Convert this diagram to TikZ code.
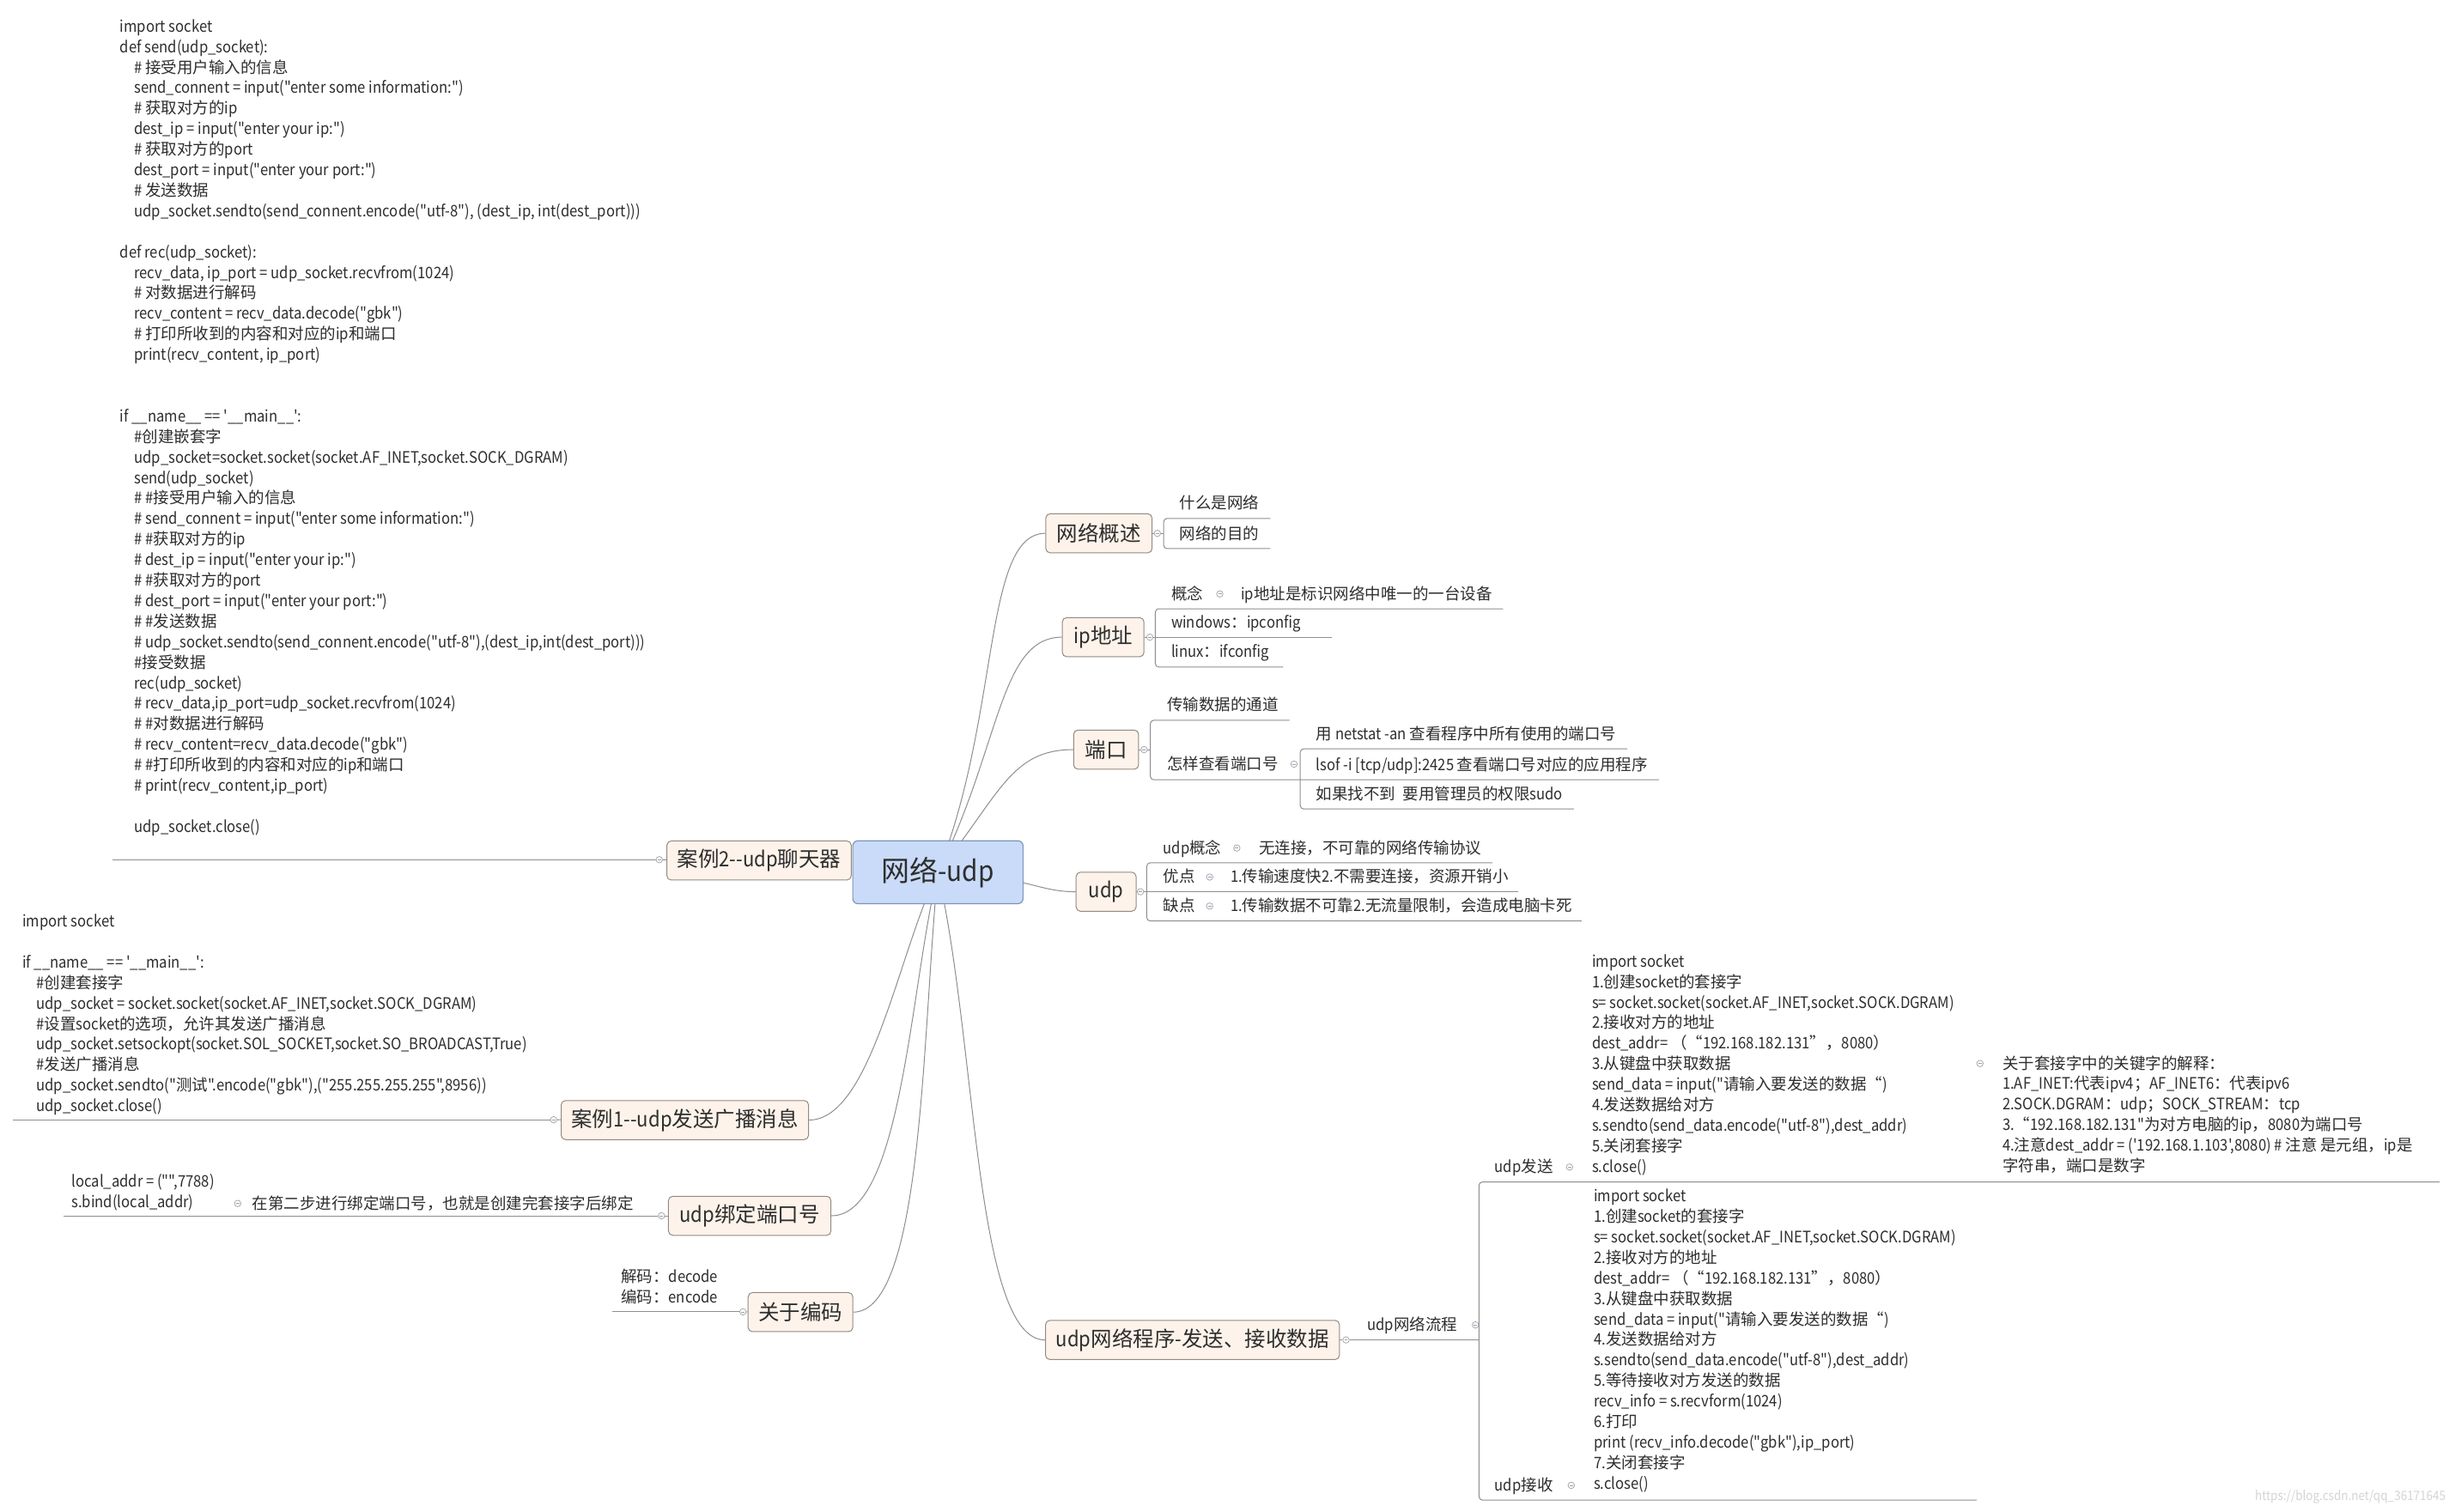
\documentclass[tikz,border=0pt]{standalone}
\usepackage{fontspec}
\newfontfamily\cjkf{Noto Sans CJK SC}
\newfontfamily\latf[FakeStretch=0.9]{Noto Sans CJK SC}
\XeTeXinterchartokenstate=1
\newXeTeXintercharclass\hanclass
\newcount\hanc
\newcommand\sethanrange[2]{\hanc=#1\relax\loop\XeTeXcharclass\hanc=\hanclass\relax\ifnum\hanc<#2\relax\advance\hanc by 1\relax\repeat}
\sethanrange{"4E00}{"9FFF}
\sethanrange{"3000}{"303F}
\sethanrange{"FF00}{"FF5E}
\sethanrange{"201C}{"201D}
\XeTeXinterchartoks 0 \hanclass = {\cjkf}
\XeTeXinterchartoks 4095 \hanclass = {\cjkf}
\XeTeXinterchartoks \hanclass 0 = {\latf}
\XeTeXinterchartoks \hanclass 4095 = {\latf}
\usetikzlibrary{calc}
\pgfdeclarelayer{back}
\pgfdeclarelayer{bg}
\pgfsetlayers{back,bg,main}
\definecolor{linec}{HTML}{8E8E8E}
\definecolor{boxf}{HTML}{FDF3EA}
\definecolor{boxb}{HTML}{938A82}
\definecolor{rootf}{HTML}{C9DBF8}
\definecolor{rootb}{HTML}{7F95B8}
\definecolor{txtc}{HTML}{2E2E2E}
\definecolor{circc}{HTML}{9AA0AA}
\definecolor{wmc}{HTML}{D4D4D4}
\newcommand\codeln[1]{\hbox{#1}}
\newcommand\codeind[1]{\hbox{\hspace*{16.5pt}#1}}
\begin{document}
\begin{tikzpicture}[x=1.819pt, y=-1.819pt,
  txt/.style={inner sep=0pt, anchor=base west, text=txtc, font=\latf\fontsize{18.5}{23.9}\selectfont},
  l1/.style={draw=boxb, fill=boxf, rounded corners=5pt, line width=1pt, inner sep=1pt, text=txtc, font=\latf\fontsize{24.5}{28}\selectfont, minimum height=45.5pt},
  rootbox/.style={draw=rootb, fill=rootf, rounded corners=6pt, line width=1.2pt, inner sep=1pt, text=txtc, font=\latf\fontsize{33}{36}\selectfont, minimum width=198.3pt, minimum height=73.3pt},
  conn/.style={draw=linec, line width=1pt},
  uline/.style={draw=linec, line width=1pt, rounded corners=4pt},
  collapse/.style={circle, draw=circc, fill=white, line width=0.7pt, minimum size=7.5pt, inner sep=0pt,
    path picture={\draw[circc, line width=0.7pt] ([xshift=1.8pt]path picture bounding box.west) -- ([xshift=-1.8pt]path picture bounding box.east);}}]
\useasboundingbox (0,0) rectangle (1568,968);
\begin{pgfonlayer}{back}
\fill[white] (0,0) rectangle (1568,968);
\end{pgfonlayer}

% ---------- topic boxes ----------
\node[rootbox] (root) at (600.5,558.5) {网络-udp};
\node[l1, minimum width=123.7pt] (gaishu) at (703.6,341.5) {网络概述};
\node[l1, minimum width=95.1pt] (ipaddr) at (706.3,408) {ip地址};
\node[l1, minimum width=75.7pt] (port) at (708.2,480) {端口};
\node[l1, minimum width=69.8pt] (udp) at (708.2,571) {udp};
\node[l1, minimum width=342.3pt] (prog) at (763.5,858) {udp网络程序-发送、接收数据};
\node[l1, minimum width=214.6pt] (case2) at (486,551) {案例2--udp聊天器};
\node[l1, minimum width=288pt] (case1) at (438.5,717.2) {案例1--udp发送广播消息};
\node[l1, minimum width=189.2pt] (bind) at (480,778.5) {udp绑定端口号};
\node[l1, minimum width=121.9pt] (coding) at (512.5,840.2) {关于编码};

% ---------- collapse markers ----------
\node[collapse] (kgaishu) at (741,341.5) {};
\node[collapse] (kip) at (736.2,408) {};
\node[collapse] (kgn) at (781,380.3) {};
\node[collapse] (kport) at (732.5,480) {};
\node[collapse] (khow) at (828.5,489.3) {};
\node[collapse] (kudp) at (730.2,571) {};
\node[collapse] (kudpgn) at (791.9,543) {};
\node[collapse] (kyd) at (774.5,561.6) {};
\node[collapse] (kqd) at (774.5,580.2) {};
\node[collapse] (kprog) at (861.8,858) {};
\node[collapse] (kflow) at (944.7,848.4) {};
\node[collapse] (ksend) at (1004.9,747.3) {};
\node[collapse] (knote) at (1267.7,681) {};
\node[collapse] (krecv) at (1006,951.1) {};
\node[collapse] (kcase2) at (422.1,550.5) {};
\node[collapse] (kcase1) at (354.5,717) {};
\node[collapse] (kbind) at (423.5,778.5) {};
\node[collapse] (kbindt) at (152.2,770.6) {};
\node[collapse] (kcoding) at (475.7,840) {};

% ---------- texts ----------
\node[txt] (tWhat) at (755.2,326) {什么是网络};
\node[txt] (tAim) at (755.2,345.3) {网络的目的};
\node[txt] (tGn) at (749.8,383.8) {概念};
\node[txt] (tIpdef) at (794.4,383.8) {ip地址是标识网络中唯一的一台设备};
\node[txt] (tWin) at (749.8,402) {windows：ipconfig};
\node[txt] (tLinux) at (749.8,421.1) {linux：ifconfig};
\node[txt] (tChan) at (747.2,455.2) {传输数据的通道};
\node[txt] (tHow) at (747.2,492.8) {怎样查看端口号};
\node[txt] (tNetstat) at (842.6,473.5) {用 netstat -an 查看程序中所有使用的端口号};
\node[txt] (tLsof) at (842.6,493.3) {lsof -i [tcp/udp]:2425 查看端口号对应的应用程序};
\node[txt] (tSudo) at (842.6,512) {如果找不到\hspace{0.45em}要用管理员的权限sudo};
\node[txt] (tUdpgn) at (744.7,546.5) {udp概念};
\node[txt] (tUdpdef) at (806,546.5) {无连接，不可靠的网络传输协议};
\node[txt] (tYd) at (744.7,565.1) {优点};
\node[txt] (tYdc) at (787.8,565.1) {1.传输速度快2.不需要连接，资源开销小};
\node[txt] (tQd) at (744.7,583.7) {缺点};
\node[txt] (tQdc) at (787.8,583.7) {1.传输数据不可靠2.无流量限制，会造成电脑卡死};
\node[txt] (tFlow) at (875.3,851.9) {udp网络流程};
\node[txt] (tSend) at (957,750.8) {udp发送};
\node[txt] (tRecv) at (957,954.6) {udp接收};
\node[txt] (tBindnote) at (161.4,774.1) {在第二步进行绑定端口号，也就是创建完套接字后绑定};

\node[txt] (cChat) at (76.8,20.5) {\vtop{%
\codeln{import socket}
\codeln{def send(udp\_socket):}
\codeind{\# 接受用户输入的信息}
\codeind{send\_connent = input("enter some information:")}
\codeind{\# 获取对方的ip}
\codeind{dest\_ip = input("enter your ip:")}
\codeind{\# 获取对方的port}
\codeind{dest\_port = input("enter your port:")}
\codeind{\# 发送数据}
\codeind{udp\_socket.sendto(send\_connent.encode("utf-8"), (dest\_ip, int(dest\_port)))}
\codeln{}
\codeln{def rec(udp\_socket):}
\codeind{recv\_data, ip\_port = udp\_socket.recvfrom(1024)}
\codeind{\# 对数据进行解码}
\codeind{recv\_content = recv\_data.decode("gbk")}
\codeind{\# 打印所收到的内容和对应的ip和端口}
\codeind{print(recv\_content, ip\_port)}
\codeln{}
\codeln{}
\codeln{if \_\_name\_\_ == '\_\_main\_\_':}
\codeind{\#创建嵌套字}
\codeind{udp\_socket=socket.socket(socket.AF\_INET,socket.SOCK\_DGRAM)}
\codeind{send(udp\_socket)}
\codeind{\# \#接受用户输入的信息}
\codeind{\# send\_connent = input("enter some information:")}
\codeind{\# \#获取对方的ip}
\codeind{\# dest\_ip = input("enter your ip:")}
\codeind{\# \#获取对方的port}
\codeind{\# dest\_port = input("enter your port:")}
\codeind{\# \#发送数据}
\codeind{\# udp\_socket.sendto(send\_connent.encode("utf-8"),(dest\_ip,int(dest\_port)))}
\codeind{\#接受数据}
\codeind{rec(udp\_socket)}
\codeind{\# recv\_data,ip\_port=udp\_socket.recvfrom(1024)}
\codeind{\# \#对数据进行解码}
\codeind{\# recv\_content=recv\_data.decode("gbk")}
\codeind{\# \#打印所收到的内容和对应的ip和端口}
\codeind{\# print(recv\_content,ip\_port)}
\codeln{}
\codeind{udp\_socket.close()}}};

\node[txt] (cCase1) at (14.2,593.5) {\vtop{%
\codeln{import socket}
\codeln{}
\codeln{if \_\_name\_\_ == '\_\_main\_\_':}
\codeind{\#创建套接字}
\codeind{udp\_socket = socket.socket(socket.AF\_INET,socket.SOCK\_DGRAM)}
\codeind{\#设置socket的选项，允许其发送广播消息}
\codeind{udp\_socket.setsockopt(socket.SOL\_SOCKET,socket.SO\_BROADCAST,True)}
\codeind{\#发送广播消息}
\codeind{udp\_socket.sendto("测试".encode("gbk"),("255.255.255.255",8956))}
\codeind{udp\_socket.close()}}};

\node[txt] (cBind) at (45.8,760.3) {\vtop{%
\codeln{local\_addr = ("",7788)}
\codeln{s.bind(local\_addr)}}};

\node[txt] (cCoding) at (397.5,821.2) {\vtop{%
\codeln{解码：decode}
\codeln{编码：encode}}};

\node[txt] (cSend) at (1019.2,619.2) {\vtop{%
\codeln{import socket}
\codeln{1.创建socket的套接字}
\codeln{s= socket.socket(socket.AF\_INET,socket.SOCK.DGRAM)}
\codeln{2.接收对方的地址}
\codeln{dest\_addr= （“192.168.182.131”，8080）}
\codeln{3.从键盘中获取数据}
\codeln{send\_data = input("请输入要发送的数据“)}
\codeln{4.发送数据给对方}
\codeln{s.sendto(send\_data.encode("utf-8"),dest\_addr)}
\codeln{5.关闭套接字}
\codeln{s.close()}}};

\node[txt] (cNote) at (1282,684.5) {\vtop{%
\codeln{关于套接字中的关键字的解释：}
\codeln{1.AF\_INET:代表ipv4；AF\_INET6：代表ipv6}
\codeln{2.SOCK.DGRAM：udp；SOCK\_STREAM：tcp}
\codeln{3.“192.168.182.131"为对方电脑的ip，8080为端口号}
\codeln{4.注意dest\_addr = ('192.168.1.103',8080) \# 注意 是元组，ip是}
\codeln{字符串，端口是数字}}};

\node[txt] (cRecv) at (1020.4,769.5) {\vtop{%
\codeln{import socket}
\codeln{1.创建socket的套接字}
\codeln{s= socket.socket(socket.AF\_INET,socket.SOCK.DGRAM)}
\codeln{2.接收对方的地址}
\codeln{dest\_addr= （“192.168.182.131”，8080）}
\codeln{3.从键盘中获取数据}
\codeln{send\_data = input("请输入要发送的数据“)}
\codeln{4.发送数据给对方}
\codeln{s.sendto(send\_data.encode("utf-8"),dest\_addr)}
\codeln{5.等待接收对方发送的数据}
\codeln{recv\_info = s.recvform(1024)}
\codeln{6.打印}
\codeln{print (recv\_info.decode("gbk"),ip\_port)}
\codeln{7.关闭套接字}
\codeln{s.close()}}};

\node[txt, anchor=base east, text=wmc, font=\latf\fontsize{15}{17}\selectfont] (wm) at (1566,961) {https://blog.csdn.net/qq\_36171645};

% ---------- curved connectors from the central topic ----------
\begin{pgfonlayer}{bg}
\draw[conn] (root.center) .. controls +(40,-100) and +(-40,0) .. (gaishu.west);
\draw[conn] (root.center) .. controls +(40,-80) and +(-40,0) .. (ipaddr.west);
\draw[conn] (root.center) .. controls +(40,-50) and +(-40,0) .. (port.west);
\draw[conn] (root.center) .. controls +(60,3) and +(-25,0) .. (udp.west);
\draw[conn] (root.center) .. controls +(25,110) and +(-45,0) .. (prog.west);
\draw[conn] (root.center) .. controls +(-25,50) and +(40,0) .. (case1.east);
\draw[conn] (root.center) .. controls +(-18,75) and +(45,0) .. (bind.east);
\draw[conn] (root.center) .. controls +(-10,100) and +(45,0) .. (coding.east);
\end{pgfonlayer}

% ---------- tree lines: 网络概述 ----------
\coordinate (vg) at (745,341.5);
\coordinate (uWhat) at ($(tWhat.base east)+(7,6)$);
\coordinate (uAim) at ($(tAim.base east)+(7,6)$);
\draw[conn] (gaishu) -- (kgaishu);
\draw[conn] (kgaishu) -- (vg);
\draw[uline] (uWhat) -- (vg |- uWhat) -- (vg |- uAim) -- (uAim);

% ---------- ip地址 ----------
\coordinate (vi) at (739.7,408);
\coordinate (uIpdef) at ($(tIpdef.base east)+(7,6)$);
\coordinate (uWin) at ($(tWin.base east)+(20,6)$);
\coordinate (uLinux) at ($(tLinux.base east)+(9,6)$);
\draw[conn] (ipaddr) -- (kip);
\draw[conn] (kip) -- (kip -| uWin);
\draw[uline] (uIpdef) -- (vi |- uIpdef) -- (vi |- uLinux) -- (uLinux);

% ---------- 端口 ----------
\coordinate (vp) at (736.5,480);
\coordinate (uChan) at ($(tChan.base east)+(7,6)$);
\coordinate (uLsof) at ($(tLsof.base east)+(7,6)$);
\coordinate (vh) at (832.5,498);
\coordinate (uNet) at ($(tNetstat.base east)+(7,6)$);
\coordinate (uSudo) at ($(tSudo.base east)+(7,6)$);
\draw[conn] (port) -- (kport);
\draw[conn] (kport) -- (vp);
\draw[uline] (uChan) -- (vp |- uChan) -- (vp |- uLsof) -- (uLsof);
\draw[uline] (uNet) -- (vh |- uNet) -- (vh |- uSudo) -- (uSudo);

% ---------- udp ----------
\coordinate (vu) at (734.2,571);
\coordinate (uUdpdef) at ($(tUdpdef.base east)+(7,6)$);
\coordinate (uYdc) at ($(tYdc.base east)+(6,6)$);
\coordinate (uQdc) at ($(tQdc.base east)+(6,6)$);
\draw[conn] (udp) -- (kudp);
\draw[conn] (kudp) -- (kudp -| uYdc);
\draw[uline] (uUdpdef) -- (vu |- uUdpdef) -- (vu |- uQdc) -- (uQdc);

% ---------- udp网络程序 ----------
\coordinate (vf) at (947,858);
\coordinate (ftop) at (1562,756.8);
\coordinate (fbot) at (1265.6,960.6);
\draw[conn] (prog) -- (kprog);
\draw[conn] (kprog) -- (vf);
\draw[uline] (ftop) -- (vf |- ftop) -- (vf |- fbot) -- (fbot);

% ---------- left side ----------
\coordinate (lc2) at (72,550.5);
\coordinate (lc1) at (8.5,717);
\coordinate (lb) at (40.5,778.5);
\coordinate (lcd) at (391.8,840);
\draw[conn] (case2) -- (kcase2);
\draw[conn] (kcase2) -- (lc2);
\draw[conn] (case1) -- (kcase1);
\draw[conn] (kcase1) -- (lc1);
\draw[conn] (bind) -- (kbind);
\draw[conn] (kbind) -- (lb);
\draw[conn] (coding) -- (kcoding);
\draw[conn] (kcoding) -- (lcd);
\end{tikzpicture}
\end{document}
